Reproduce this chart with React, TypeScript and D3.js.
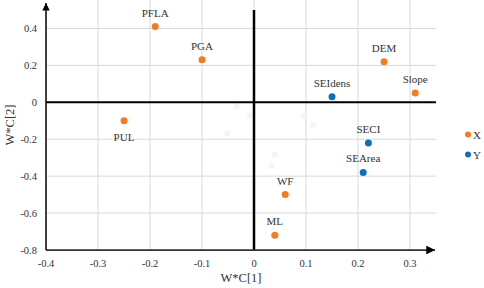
import React from "react";
import * as d3 from "d3";

const names = ["PFLA", "PGA", "PUL", "DEM", "Slope", "SEIdens", "SECI", "SEArea", "WF", "ML"];
const xVals = [-0.19, -0.1, -0.25, 0.25, 0.31, 0.15, 0.22, 0.21, 0.06, 0.04];
const yVals = [0.41, 0.23, -0.1, 0.22, 0.05, 0.03, -0.22, -0.38, -0.5, -0.72];
const groups = ["X", "X", "X", "X", "X", "Y", "Y", "Y", "X", "X"];
const labelBelow = ["PUL"];

const faintX = [-0.033, -0.008, -0.051, 0.095, 0.114, 0.04, 0.034];
const faintY = [-0.022, -0.071, -0.167, -0.071, -0.124, -0.283, -0.343];

const xTicks = [-0.4, -0.3, -0.2, -0.1, 0, 0.1, 0.2, 0.3];
const yTicks = [0.4, 0.2, 0, -0.2, -0.4, -0.6, -0.8];
const legendKeys = ["X", "Y"];

const W = 484;
const H = 288;
const colors: Record<string, string> = { X: "#F47B20", Y: "#0B72BA" };
const FONT = "Liberation Serif, Times New Roman, DejaVu Serif, serif";

export default function App() {
  const x = d3.scaleLinear().domain([-0.4, 0.35]).range([46, 436]);
  const y = d3.scaleLinear().domain([-0.8, 0.5]).range([250, 10]);
  const fmt = (v: number) => (v === 0 ? "0" : String(v));
  const gridTop = 0;

  return (
    <svg
      width={W}
      height={H}
      style={{ position: "absolute", left: 0, top: 0, background: "#fff", fontFamily: FONT }}
    >
      <defs>
        <marker id="arr" viewBox="0 0 10 10" refX="10" refY="5" markerWidth="5" markerHeight="5" orient="auto" markerUnits="strokeWidth">
          <path d="M0,0 L10,5 L0,10 z" fill="#000" />
        </marker>
      </defs>
      {xTicks.filter((t) => t !== -0.4).map((t) => (
        <line key={"gx" + t} x1={x(t)} x2={x(t)} y1={gridTop} y2={y(-0.8)} stroke="#d9d9d9" strokeWidth={1} />
      ))}
      {yTicks.filter((t) => t !== -0.8).map((t) => (
        <line key={"gy" + t} x1={x(-0.4)} x2={x(0.35)} y1={y(t)} y2={y(t)} stroke="#d9d9d9" strokeWidth={1} />
      ))}
      {faintX.map((v, i) => (
        <circle key={"f" + i} cx={x(v)} cy={y(faintY[i])} r={3} fill="#f5f5f5" />
      ))}
      <line x1={x(-0.4)} x2={x(0.35)} y1={y(0)} y2={y(0)} stroke="#000" strokeWidth={2} />
      <line x1={x(0)} x2={x(0)} y1={y(0.5)} y2={y(-0.8)} stroke="#000" strokeWidth={2.5} />
      <line x1={x(-0.4)} x2={x(0.35) - 1} y1={y(-0.8)} y2={y(-0.8)} stroke="#333" strokeWidth={1.75} markerEnd="url(#arr)" />
      <line x1={x(-0.4)} x2={x(-0.4)} y1={y(-0.8)} y2={3} stroke="#000" strokeWidth={1.5} markerEnd="url(#arr)" />
      {xTicks.map((t) => (
        <text key={"tx" + t} x={x(t)} y={y(-0.8) + 17} textAnchor="middle" fontSize={10.5} fill="#333">
          {fmt(t)}
        </text>
      ))}
      {yTicks.map((t) => (
        <text key={"ty" + t} x={37} y={y(t) + 3.5} textAnchor="end" fontSize={10.5} fill="#333">
          {fmt(t)}
        </text>
      ))}
      <text x={(x(-0.4) + x(0.35)) / 2} y={282} textAnchor="middle" fontSize={12.5} fill="#333">
        W*C[1]
      </text>
      <text transform={`translate(14,125) rotate(-90)`} textAnchor="middle" fontSize={12.5} fill="#333">
        W*C[2]
      </text>
      {names.map((n, i) => (
        <g key={n}>
          <circle cx={x(xVals[i])} cy={y(yVals[i])} r={3.5} fill={colors[groups[i]]} />
          <text
            x={x(xVals[i])}
            y={labelBelow.includes(n) ? y(yVals[i]) + 20 : y(yVals[i]) - 10}
            textAnchor="middle"
            fontSize={11}
            fill="#333"
          >
            {n}
          </text>
        </g>
      ))}
      {legendKeys.map((k, i) => (
        <g key={k}>
          <circle cx={468} cy={134.5 + i * 20} r={3} fill={colors[k]} />
          <text x={473} y={138.5 + i * 20} fontSize={11} fill="#333">
            {k}
          </text>
        </g>
      ))}
    </svg>
  );
}
